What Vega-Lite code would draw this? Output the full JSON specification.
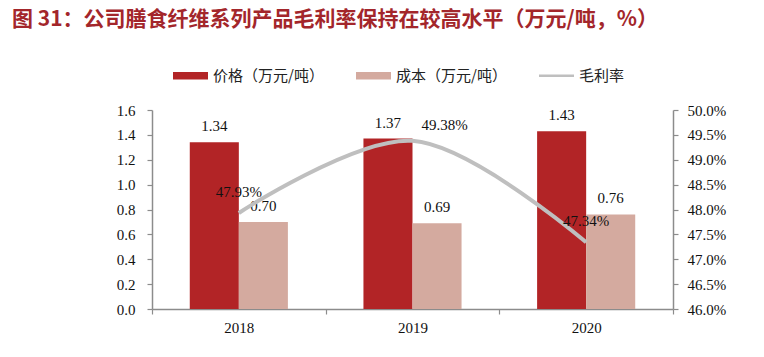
{
  "$schema": "https://vega.github.io/schema/vega-lite/v6.json",
  "width": 521,
  "height": 199,
  "autosize": "none",
  "padding": {"left": 152, "top": 110, "right": 91, "bottom": 48},
  "background": "white",
  "title": {
    "text": "图 31：公司膳食纤维系列产品毛利率保持在较高水平（万元/吨，%）",
    "anchor": "start",
    "frame": "group",
    "dx": -140,
    "offset": 28,
    "font": "Noto Sans CJK SC",
    "fontSize": 21,
    "fontWeight": "bold",
    "color": "#A3262B"
  },
  "datasets": {
    "bars": [
      {"year": "2018", "series": "价格（万元/吨）", "value": 1.34},
      {"year": "2018", "series": "成本（万元/吨）", "value": 0.70},
      {"year": "2019", "series": "价格（万元/吨）", "value": 1.37},
      {"year": "2019", "series": "成本（万元/吨）", "value": 0.69},
      {"year": "2020", "series": "价格（万元/吨）", "value": 1.43},
      {"year": "2020", "series": "成本（万元/吨）", "value": 0.76}
    ],
    "margin": [
      {"year": "2018", "margin": 0.4793},
      {"year": "2019", "margin": 0.4938},
      {"year": "2020", "margin": 0.4734}
    ]
  },
  "config": {
    "view": {"stroke": null},
    "axis": {
      "labelFont": "Liberation Serif",
      "labelFontSize": 15,
      "labelColor": "#111",
      "labelOverlap": false,
      "domainColor": "#8c8c8c",
      "domainWidth": 1.5,
      "tickColor": "#8c8c8c",
      "tickWidth": 1.2,
      "tickSize": 5,
      "grid": false,
      "title": null
    }
  },
  "layer": [
    {
      "data": {"name": "bars"},
      "encoding": {
        "x": {
          "field": "year", "type": "nominal",
          "scale": {"paddingInner": 0, "paddingOuter": 0},
          "axis": {"labelAngle": 0, "tickBand": "extent", "labelPadding": 6}
        },
        "xOffset": {
          "field": "series", "type": "nominal",
          "sort": ["价格（万元/吨）", "成本（万元/吨）"],
          "scale": {"paddingInner": 0, "paddingOuter": 0.77}
        },
        "y": {
          "field": "value", "type": "quantitative",
          "scale": {"domain": [0, 1.6]},
          "axis": {"values": [0, 0.2, 0.4, 0.6, 0.8, 1.0, 1.2, 1.4, 1.6], "format": ".1f", "labelPadding": 12, "labelOverlap": false}
        }
      },
      "layer": [
        {
          "mark": {"type": "bar"},
          "encoding": {
            "color": {
              "field": "series", "type": "nominal",
              "scale": {
                "domain": ["价格（万元/吨）", "成本（万元/吨）", "毛利率"],
                "range": ["#B22426", "#D4AA9F", "#BFBFBF"]
              },
              "legend": {
                "orient": "none",
                "legendX": 21,
                "legendY": -52,
                "direction": "horizontal",
                "title": null,
                "symbolSize": 1225,
                "labelFont": "Noto Sans CJK SC",
                "labelFontSize": 15,
                "labelColor": "#222",
                "labelOffset": 5,
                "columnPadding": 32,
                "labelLimit": 300,
                "encode": {
                  "symbols": {
                    "update": {
                      "shape": {"signal": "datum.value === '毛利率' ? 'M-1,-0.07H1V0.07H-1Z' : 'M-1,-0.22H1V0.22H-1Z'"},
                      "fill": {"scale": "color", "field": "value"},
                      "strokeWidth": {"value": 0},
                      "opacity": {"value": 1}
                    }
                  }
                }
              }
            }
          }
        },
        {
          "mark": {"type": "text", "font": "Liberation Serif", "fontSize": 15, "baseline": "middle", "dy": -16, "color": "#111"},
          "encoding": {
            "text": {"field": "value", "type": "quantitative", "format": ".2f"}
          }
        }
      ]
    },
    {
      "data": {"name": "margin"},
      "encoding": {
        "x": {"field": "year", "type": "nominal"},
        "y": {
          "field": "margin", "type": "quantitative",
          "scale": {"domain": [0.46, 0.50]},
          "axis": {"orient": "right", "values": [0.46, 0.465, 0.47, 0.475, 0.48, 0.485, 0.49, 0.495, 0.50], "format": ".1%", "labelPadding": 9, "labelOverlap": false}
        }
      },
      "layer": [
        {
          "mark": {"type": "line", "interpolate": "catmull-rom", "strokeWidth": 4, "strokeCap": "butt"},
          "encoding": {
            "color": {"datum": "毛利率", "type": "nominal"}
          }
        },
        {
          "transform": [{"filter": "datum.year !== '2019'"}],
          "mark": {"type": "text", "font": "Liberation Serif", "fontSize": 15, "baseline": "middle", "dy": -21, "color": "#111"},
          "encoding": {
            "text": {"field": "margin", "type": "quantitative", "format": ".2%"}
          }
        },
        {
          "transform": [{"filter": "datum.year === '2019'"}],
          "mark": {"type": "text", "font": "Liberation Serif", "fontSize": 15, "baseline": "middle", "dx": 32, "dy": -16, "color": "#111"},
          "encoding": {
            "text": {"field": "margin", "type": "quantitative", "format": ".2%"}
          }
        }
      ]
    }
  ],
  "resolve": {"scale": {"y": "independent"}}
}
